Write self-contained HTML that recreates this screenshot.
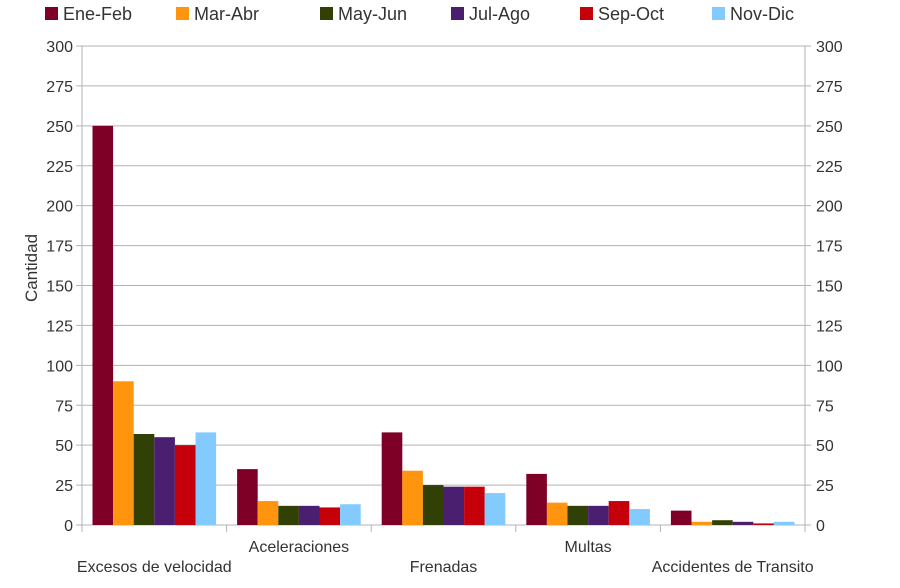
<!DOCTYPE html>
<html><head><meta charset="utf-8"><style>
body{margin:0;background:#fff;font-family:"Liberation Sans",sans-serif}
svg text{font-family:"Liberation Sans",sans-serif;fill:#333}
</style></head><body>
<svg width="900" height="583">
<g id="grid"></g><g id="bars"></g><g id="axes"></g><g id="legend"></g>
<text transform="translate(37,268) rotate(-90)" text-anchor="middle" font-size="17">Cantidad</text>
</svg>
<script>
const categories=["Excesos de velocidad","Aceleraciones","Frenadas","Multas","Accidentes de Transito"];
const seriesNames=["Ene-Feb","Mar-Abr","May-Jun","Jul-Ago","Sep-Oct","Nov-Dic"];
const colors=["#7f0027","#ff950e","#314004","#4b1f6f","#c5000b","#83caff"];
const eneFeb=[250,35,58,32,9];
const marAbr=[90,15,34,14,2];
const mayJun=[57,12,25,12,3];
const julAgo=[55,12,24,12,2];
const sepOct=[50,11,24,15,1];
const novDic=[58,13,20,10,2];
const ticks=[0,25,50,75,100,125,150,175,200,225,250,275,300];
const series=[eneFeb,marAbr,mayJun,julAgo,sepOct,novDic];
const L=82,R=805,T=46,B=525,MAX=300;
const ns="http://www.w3.org/2000/svg";
const y=v=>B-v/MAX*(B-T);
const cw=(R-L)/categories.length;
const bw=(cw-21)/6;
const x=(c,s)=>L+c*cw+10.5+s*bw;
function mk(t,a,p,txt){const e=document.createElementNS(ns,t);for(const k in a)e.setAttribute(k,a[k]);if(txt!=null)e.textContent=txt;document.getElementById(p).appendChild(e);return e;}
ticks.forEach(t=>{
 const g=mk("line",{x1:L-6,x2:R+6,y1:y(t),y2:y(t),stroke:"#b3b3b3","stroke-width":1},"grid");
 
 
 const a=mk("text",{x:L-9,y:y(t)+6,"text-anchor":"end","font-size":"16"},"axes",t);
 
 
 const b=mk("text",{x:R+11,y:y(t)+6,"font-size":"16"},"axes",t);
 
 
});
mk("line",{x1:L,x2:L,y1:T,y2:B,stroke:"#b3b3b3"},"axes");
mk("line",{x1:R,x2:R,y1:T,y2:B,stroke:"#b3b3b3"},"axes");
for(let c=0;c<=categories.length;c++){
 mk("line",{x1:L+c*cw,x2:L+c*cw,y1:B,y2:B+7,stroke:"#b3b3b3"},"axes");
}
series.forEach((arr,s)=>arr.forEach((v,c)=>{
 const r=mk("rect",{x:x(c,s),y:y(v),width:bw,height:B-y(v),fill:colors[s]},"bars");
 
 
}));
categories.forEach((n,c)=>{
 const t=mk("text",{x:L+c*cw+cw/2,y:c%2?552:572,"text-anchor":"middle","font-size":"16"},"axes",n);
 
 
});
const lx=[18,149,293,424,553,685];
seriesNames.forEach((n,i)=>{
 const g=mk("g",{},"legend");
 
 
 const r=document.createElementNS(ns,"rect");
 r.setAttribute("x",lx[i]+27);r.setAttribute("y",7);r.setAttribute("width",13);r.setAttribute("height",13);r.setAttribute("fill",colors[i]);
 g.appendChild(r);
 const t=document.createElementNS(ns,"text");
 t.setAttribute("x",lx[i]+45);t.setAttribute("y",20);t.setAttribute("font-size","18");t.textContent=n;
 g.appendChild(t);
});
</script>
</body></html>
